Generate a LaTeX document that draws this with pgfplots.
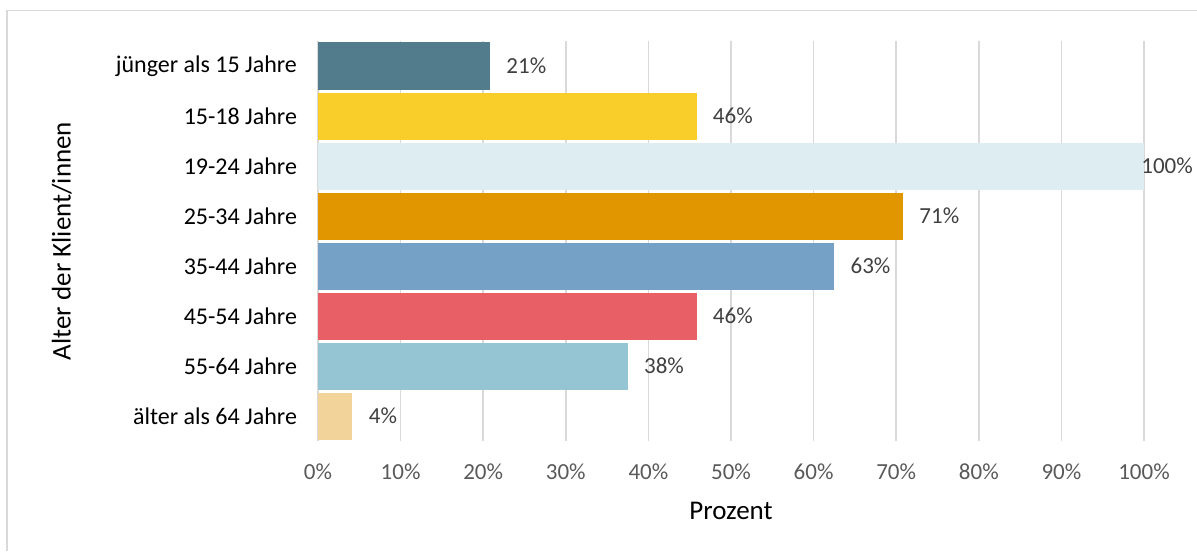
\documentclass[border=0pt]{standalone}
\usepackage{fontspec}
\setmainfont{Carlito}
\usepackage{pgfplots}
\pgfplotsset{compat=1.18}

\definecolor{gridgray}{HTML}{D9D9D9}
\definecolor{ticktext}{HTML}{595959}
\definecolor{valtext}{HTML}{404040}
\definecolor{cA}{HTML}{527B8B}
\definecolor{cB}{HTML}{F9CD2A}
\definecolor{cC}{HTML}{DEEDF2}
\definecolor{cD}{HTML}{E19600}
\definecolor{cE}{HTML}{76A1C7}
\definecolor{cF}{HTML}{E85F66}
\definecolor{cG}{HTML}{95C4D3}
\definecolor{cH}{HTML}{F2D49A}

\begin{document}
\begin{tikzpicture}
\path[use as bounding box] (0,0) rectangle (598.5pt,275.5pt);
% chart frame (only top and left edges visible)
\draw[gridgray,line width=0.75pt] (3.5pt,0) -- (3.5pt,270.25pt) -- (598.5pt,270.25pt);
\begin{axis}[
  at={(159pt,55pt)},anchor=south west,
  scale only axis,width=413pt,height=200pt,
  xbar,bar width=23.5pt,bar shift=0pt,
  xmin=0,xmax=100,ymin=-0.5,ymax=7.5,y dir=reverse,
  axis line style={draw=none},
  major tick length=0pt,
  xtick={0,10,...,100},
  xticklabel={\pgfmathprintnumber{\tick}\%},
  /pgf/number format/assume math mode=true,
  xmajorgrids,grid style={gridgray,line width=0.75pt},
  ytick={0,...,7},
  yticklabels={jünger als 15 Jahre,15-18 Jahre,19-24 Jahre,25-34 Jahre,35-44 Jahre,45-54 Jahre,55-64 Jahre,älter als 64 Jahre},
  xticklabel style={font=\fontsize{11.5}{13}\selectfont,text=ticktext,anchor=base,yshift=-19pt},
  yticklabel style={font=\fontsize{12}{14}\selectfont,text=black,anchor=east,xshift=-7pt},
  xlabel={Prozent},
  xlabel style={font=\fontsize{13.5}{16}\selectfont,at={(axis description cs:0.5,0)},anchor=base,yshift=-39pt},
  ylabel={Alter der Klient/innen},
  ylabel style={font=\fontsize{13.5}{16}\selectfont,at={(axis description cs:-0.31,0.5)},anchor=center},
  point meta=explicit symbolic,
  nodes near coords={\pgfplotspointmeta\%},
  nodes near coords style={font=\fontsize{11.5}{13}\selectfont,text=valtext,anchor=west,inner sep=0pt,xshift=8pt},
]
\addplot[fill=cA,draw=none] coordinates {(20.83,0) [21]};
\addplot[fill=cB,draw=none] coordinates {(45.83,1) [46]};
% shifts add up: 8pt - 9.5pt puts this label just over the bar's end
\addplot[fill=cC,draw=none,nodes near coords style={xshift=-9.5pt}] coordinates {(100,2) [100]};
\addplot[fill=cD,draw=none] coordinates {(70.83,3) [71]};
\addplot[fill=cE,draw=none] coordinates {(62.5,4) [63]};
\addplot[fill=cF,draw=none] coordinates {(45.83,5) [46]};
\addplot[fill=cG,draw=none] coordinates {(37.5,6) [38]};
\addplot[fill=cH,draw=none] coordinates {(4.17,7) [4]};
\end{axis}
\end{tikzpicture}
\end{document}
